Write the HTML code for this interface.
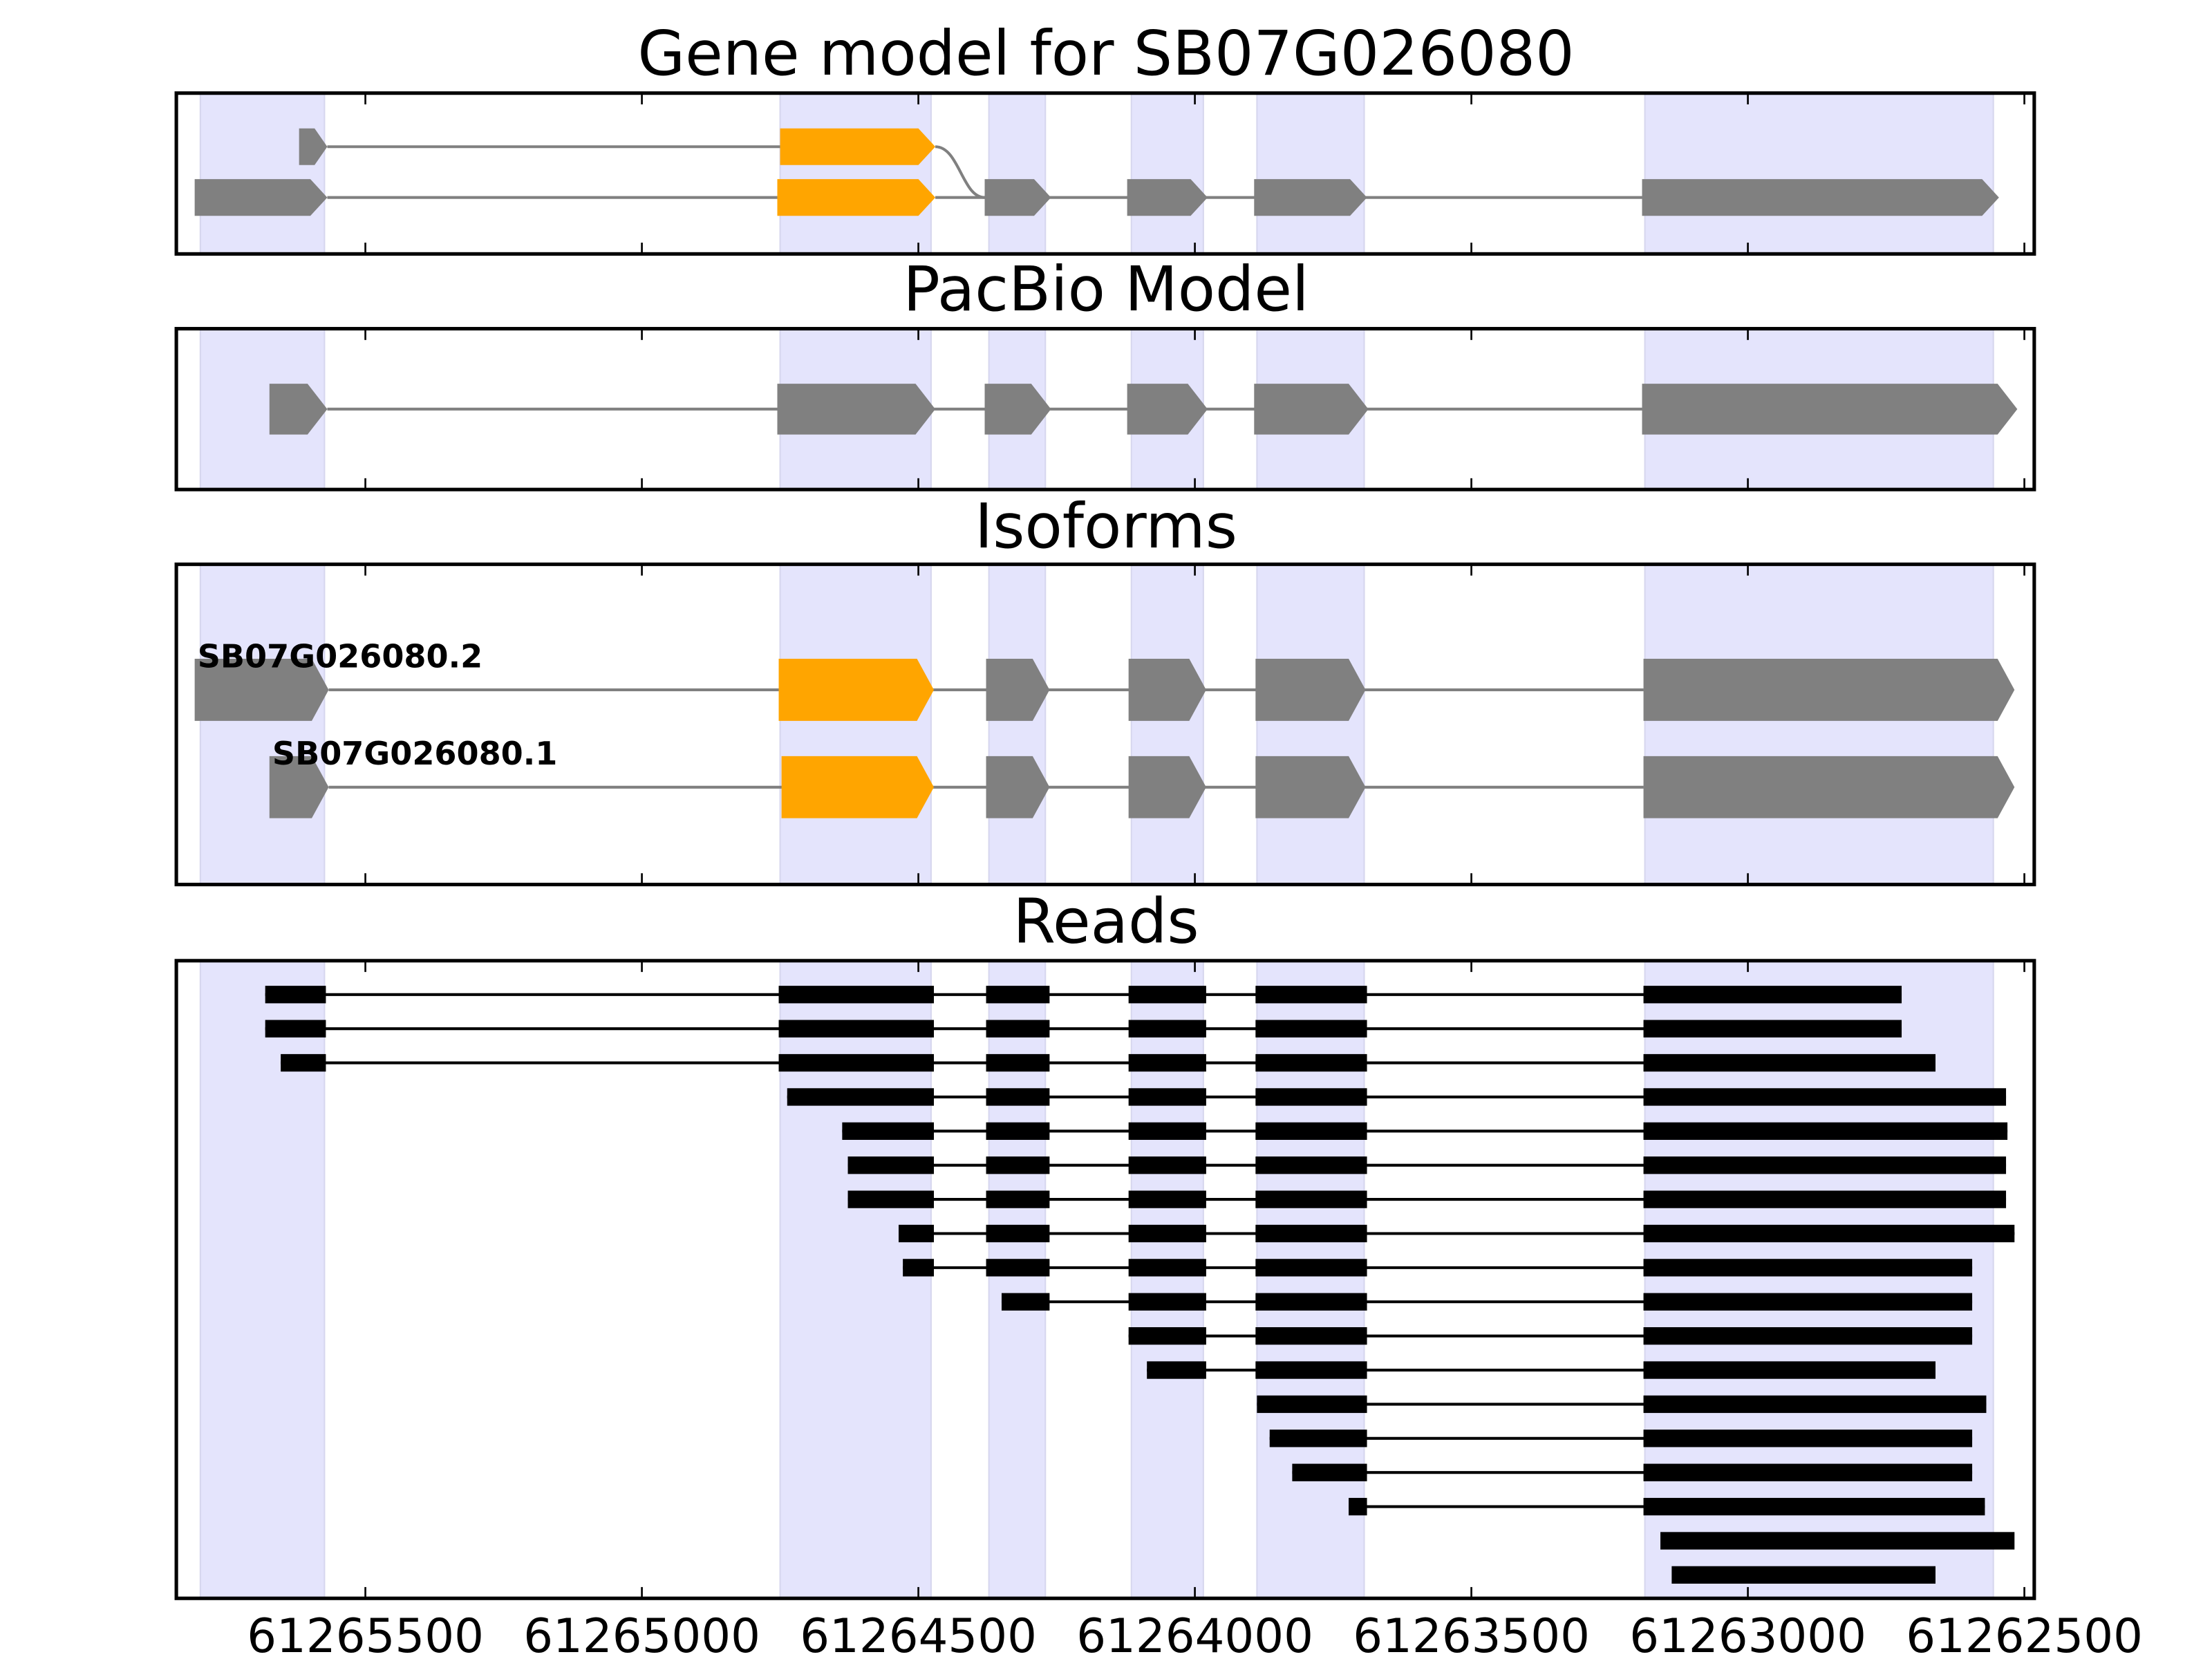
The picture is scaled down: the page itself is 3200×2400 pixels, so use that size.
<!DOCTYPE html>
<html><head><meta charset="utf-8"><style>html,body{margin:0;padding:0;background:#fff}svg{display:block}</style></head>
<body>
<svg id="s" xmlns="http://www.w3.org/2000/svg" width="3200" height="2400" viewBox="0 0 1568 1176" preserveAspectRatio="none" font-family="'DejaVu Sans','Liberation Sans',sans-serif">
<rect width="1568" height="1176" fill="#fff"/>
<g id="shade" fill="#e4e4fc" stroke="#d6d6ee" stroke-width="1"></g>
<g id="content"></g>
<g font-size="43.5" text-anchor="middle" fill="#000">
<text x="784" y="53">Gene model for SB07G026080</text>
<text x="784" y="220">PacBio Model</text>
<text x="784" y="388">Isoforms</text>
<text x="784" y="668">Reads</text>
</g>
<g font-size="22.6" font-weight="bold" fill="#000">
<text x="140" y="473">SB07G026080.2</text>
<text x="193" y="542">SB07G026080.1</text>
</g>
<g font-size="33" text-anchor="middle" fill="#000">
<text x="259" y="1171">61265500</text>
<text x="455" y="1171">61265000</text>
<text x="651" y="1171">61264500</text>
<text x="847" y="1171">61264000</text>
<text x="1043" y="1171">61263500</text>
<text x="1239" y="1171">61263000</text>
<text x="1435" y="1171">61262500</text>
</g>
</svg>
<script>
const NS="http://www.w3.org/2000/svg",s=document.getElementById('s'),C=document.getElementById('content'),SH=document.getElementById('shade');
function el(t,a,p){const e=document.createElementNS(NS,t);for(const k in a)e.setAttribute(k,a[k]);(p||C).appendChild(e);return e;}
const panels=[[66,180],[233,347],[400,627],[681,1133]];
const spans=[[142,230],[553,660],[701,741],[802,853],[891,967],[1166,1413]];
panels.forEach(([t,b])=>spans.forEach(([a,c])=>el('rect',{x:a,y:t,width:c-a,height:b-t},SH)));
function exon(x1,x2,cy,h,col,tip){const hh=h/2;const tp=Math.min(tip,(x2-x1)*0.6);
el('polygon',{points:`${x1},${cy-hh} ${x2-tp},${cy-hh} ${x2},${cy} ${x2-tp},${cy+hh} ${x1},${cy+hh}`,fill:col});}
function line(x1,x2,y,col,w){el('line',{x1,x2,y1:y,y2:y,stroke:col,'stroke-width':w});}
const G='#808080',O='#ffa500';
line(232,553,104,G,2);line(232,551,140,G,2);line(663,1164,140,G,2);
el('path',{d:'M663,104 C680,104 682,140 698,140',fill:'none',stroke:G,'stroke-width':2});
exon(212,232,104,26,G,9);exon(553,663,104,26,O,12);
[[138,232,G],[551,663,O],[698,745,G],[799,856,G],[889,969,G],[1164,1417,G]].forEach(e=>exon(e[0],e[1],140,26,e[2],12));
line(232,1164,290,G,2);
[[191,232],[551,663],[698,745],[799,856],[889,970],[1164,1430]].forEach(e=>exon(e[0],e[1],290,36,G,14));
line(233,1165,489,G,2);line(233,1165,558,G,2);
[[138,233,G],[552,662,O],[699,744,G],[800,855,G],[890,968,G],[1165,1428,G]].forEach(e=>exon(e[0],e[1],489,44,e[2],12));
[[191,233,G],[554,662,O],[699,744,G],[800,855,G],[890,968,G],[1165,1428,G]].forEach(e=>exon(e[0],e[1],558,44,e[2],12));
const M=[[699,744],[800,855],[890,969]];
const R=[
[[188,231],[552,662],...M,[1165,1348]],
[[188,231],[552,662],...M,[1165,1348]],
[[199,231],[552,662],...M,[1165,1372]],
[[558,662],...M,[1165,1422]],
[[597,662],...M,[1165,1423]],
[[601,662],...M,[1165,1422]],
[[601,662],...M,[1165,1422]],
[[637,662],...M,[1165,1428]],
[[640,662],...M,[1165,1398]],
[[710,744],[800,855],[890,969],[1165,1398]],
[[800,855],[890,969],[1165,1398]],
[[813,855],[890,969],[1165,1372]],
[[891,969],[1165,1408]],
[[900,969],[1165,1398]],
[[916,969],[1165,1398]],
[[956,969],[1165,1407]],
[[1177,1428]],
[[1185,1372]]];
R.forEach((r,i)=>{const y=705+i*24.2;if(r.length>1)line(r[0][0],r[r.length-1][1],y,'#000',2);
r.forEach(([a,b])=>el('rect',{x:a,y:y-6.2,width:b-a,height:12.4,fill:'#000'}));});
const ticks=[259,455,651,847,1043,1239,1435];
panels.forEach(([t,b])=>{ticks.forEach(x=>{el('line',{x1:x,x2:x,y1:t,y2:t+8,stroke:'#000','stroke-width':1.3});el('line',{x1:x,x2:x,y1:b,y2:b-8,stroke:'#000','stroke-width':1.3});});
el('rect',{x:125,y:t,width:1317,height:b-t,fill:'none',stroke:'#000','stroke-width':2.5});});
</script>
</body></html>
